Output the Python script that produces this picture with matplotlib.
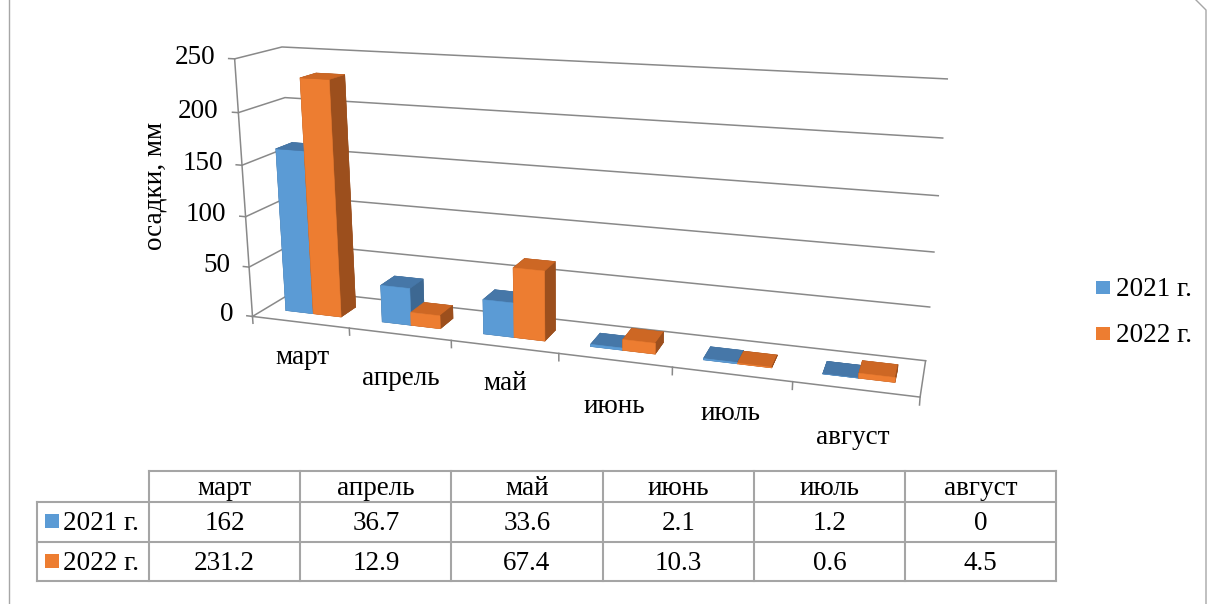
import numpy as np
import matplotlib
matplotlib.use("Agg")
import matplotlib.pyplot as plt
from matplotlib import font_manager
from matplotlib.patches import Rectangle

# monthly precipitation, mm
months = ["март", "апрель", "май", "июнь", "июль", "август"]
years = ["2021 г.", "2022 г."]
rain_2021 = [162, 36.7, 33.6, 2.1, 1.2, 0]
rain_2022 = [231.2, 12.9, 67.4, 10.3, 0.6, 4.5]
value_ticks = [0, 50, 100, 150, 200, 250]

W, H = 1208, 604
FS = 19.5
GRID = "#898989"
TABLE_LINE = "#a5a5a5"

# front / top / side shades of each series
BLUE = ("#5b9bd5", "#4677a8", "#3d6892")
ORANGE = ("#ed7d31", "#cd6724", "#9c4f1d")

available = {f.name for f in font_manager.fontManager.ttflist}
serif = next((f for f in ["Liberation Serif", "Times New Roman", "DejaVu Serif"]
              if f in available), "serif")
plt.rcParams["font.family"] = [serif, "DejaVu Serif"]
plt.rcParams["font.size"] = FS

fig = plt.figure(figsize=(W / 100, H / 100), dpi=100)

# ---- 3-D column chart ----
ax = fig.add_axes([0.2, 0.0, 0.5, 1.0], projection="3d", computed_zorder=False)
ax.set_proj_type("persp", focal_length=0.32)
ax.view_init(elev=15, azim=-72)
ax.set_box_aspect((6, 0.8, 2.4))
n = len(months)
top = value_ticks[-1]
ax.set_xlim(0, n)
ax.set_ylim(0, 1)
ax.set_zlim(0, top)
ax.set_axis_off()
ax.set_facecolor("none")

line_kw = dict(color=GRID, lw=1.1, zorder=1, clip_on=False)

# side wall and back wall gridlines, value axis ticks
for v in value_ticks:
    ax.plot([0, 0, n], [0, 1, 1], [v, v, v], **line_kw)
    ax.plot([-0.06, 0], [0, 0], [v, v], **line_kw)
ax.plot([0, 0], [0, 0], [0, top], **line_kw)

# floor edges and category ticks
ax.plot([0, n, n], [0, 0, 1], [0, 0, 0], **line_kw)
for k in range(n + 1):
    ax.plot([k, k], [0, 0], [0, -7], **line_kw)

# bars: faces in bar3d order (bottom, top, front, back, left, right)
bar_w = 0.29
bar_y, bar_d = 0.3, 0.36
xs, heights, colors = [], [], []
for values, (front, upper, side), shift in ((rain_2021, BLUE, -bar_w),
                                            (rain_2022, ORANGE, 0.0)):
    for i, val in enumerate(values):
        xs.append(i + 0.5 + shift)
        heights.append(val)
        colors += [side, upper, front, side, side, side]
ax.bar3d(xs, [bar_y] * len(xs), [0] * len(xs), bar_w, bar_d, heights,
         color=colors, edgecolor=colors, linewidth=0.4, shade=False,
         zorder=2, clip_on=False)


def to_page(pts):
    """Project 3-D chart points to page pixels (y down)."""
    pts = np.atleast_2d(np.asarray(pts, float))
    vec = ax.get_proj() @ np.column_stack([pts, np.ones(len(pts))]).T
    disp = ax.transData.transform(np.column_stack([vec[0] / vec[3], vec[1] / vec[3]]))
    return np.column_stack([disp[:, 0], H - disp[:, 1]])


# place the plot box: fit frame corners to their spots on the page
fig.canvas.draw()
frame_pts = [(0, 0, 0), (0, 0, top), (0, 1, top), (n, 1, top), (n, 1, 0), (n, 0, 0)]
frame_px = np.array([(255, 313), (236, 55), (281, 44),
                     (947, 80), (927, 368), (916, 399)], float)
p = to_page(frame_pts)
pm, qm = p.mean(0), frame_px.mean(0)
k = ((p - pm) * (frame_px - qm)).sum() / ((p - pm) ** 2).sum()
bb = ax.get_position()
size = bb.width * W * k
nx0 = qm[0] + k * (bb.x0 * W - pm[0])
ny_top = qm[1] + k * ((H - bb.y1 * H) - pm[1])
ax.set_position([nx0 / W, (H - ny_top - size) / H, size / W, size / H])
fig.canvas.draw()

# ---- overlay in page pixels: labels, legend, data table ----
ov = fig.add_axes([0, 0, 1, 1], zorder=5)
ov.set_xlim(0, W)
ov.set_ylim(H, 0)
ov.axis("off")
ov.patch.set_alpha(0)

for v, (px, py) in zip(value_ticks, to_page([(-0.2, 0, v) for v in value_ticks])):
    ov.text(px, py, str(v), ha="right", va="center")
# category labels sit below the floor, every other one a little lower
label_pts = [(i + 0.5, 0, -36 - 8 * (i % 2)) for i in range(n)]
for m, (px, py) in zip(months, to_page(label_pts)):
    ov.text(px, py, m, ha="center", va="center")

ov.text(155, 186, "осадки, мм", rotation=90, ha="center", va="center")

series_colors = [BLUE[0], ORANGE[0]]
for j, (name, col) in enumerate(zip(years, series_colors)):
    yc = 288 + 46 * j
    ov.add_patch(Rectangle((1096, yc - 7), 14, 13, color=col, lw=0))
    ov.text(1116, yc + 1, name, ha="left", va="center")

label_x0, label_x1 = 37, 149
cell_w = 151.2
col_x = label_x1 + cell_w * np.arange(n + 1)
row_y = [471, 502, 542, 581]
lk = dict(color=TABLE_LINE, lw=1.5)
ov.plot([label_x1, col_x[-1]], [row_y[0]] * 2, **lk)
for y in row_y[1:]:
    ov.plot([label_x0, col_x[-1]], [y, y], **lk)
ov.plot([label_x0, label_x0], [row_y[1], row_y[-1]], **lk)
for x in col_x:
    ov.plot([x, x], [row_y[0], row_y[-1]], **lk)

for i, m in enumerate(months):
    cx = (col_x[i] + col_x[i + 1]) / 2
    ov.text(cx, (row_y[0] + row_y[1]) / 2 + 2, m, ha="center", va="center")
for r, (name, col, values) in enumerate(zip(years, series_colors,
                                            (rain_2021, rain_2022))):
    yc = (row_y[r + 1] + row_y[r + 2]) / 2
    ov.add_patch(Rectangle((45, yc - 8), 14, 14, color=col, lw=0))
    ov.text(63, yc + 1.5, name, ha="left", va="center")
    for i, val in enumerate(values):
        cx = (col_x[i] + col_x[i + 1]) / 2
        ov.text(cx, yc + 1.5, f"{val:g}", ha="center", va="center")

# chart area border
ov.plot([8.5, 8.5], [0, H], color="#a6a6a6", lw=1)
ov.plot([1196, 1206, 1206], [0, 10, H], color="#a6a6a6", lw=1)

fig.savefig("out.png", dpi=100)
